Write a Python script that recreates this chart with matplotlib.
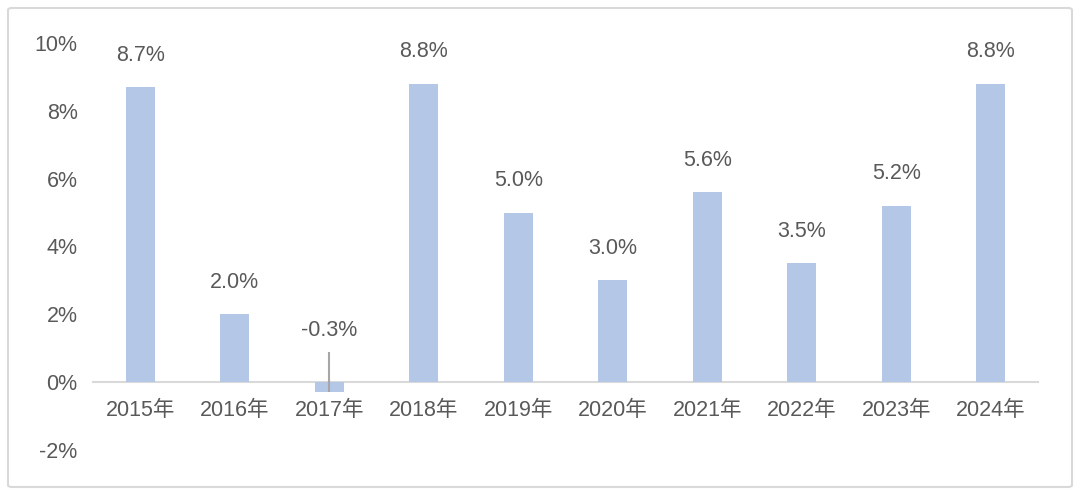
import numpy as np
import matplotlib.pyplot as plt
from matplotlib.patches import FancyBboxPatch

plt.rcParams['font.family'] = ['Liberation Sans', 'Noto Sans CJK SC', 'DejaVu Sans']

# Data
years = ['2015年', '2016年', '2017年', '2018年', '2019年',
         '2020年', '2021年', '2022年', '2023年', '2024年']
growth = [8.7, 2.0, -0.3, 8.8, 5.0, 3.0, 5.6, 3.5, 5.2, 8.8]
yticks = [-2, 0, 2, 4, 6, 8, 10]

bar_color = '#B4C7E7'
text_color = '#595959'
fs = 15.5

fig = plt.figure(figsize=(10.8, 4.95), dpi=100)
ax = fig.add_axes([93 / 1080, 1 - 450 / 495, 945 / 1080, 407 / 495])

x = np.arange(len(years))
ax.bar(x, growth, width=0.31, color=bar_color, zorder=2)

# data labels
for xi, v in zip(x, growth):
    if v >= 0:
        ax.annotate(f'{v:.1f}%', (xi, v), xytext=(0, 23), textcoords='offset points',
                    ha='center', va='center', fontsize=fs, color=text_color)
    else:
        ax.annotate(f'{v:.1f}%', (xi, 0), xytext=(0, 37), textcoords='offset points',
                    ha='center', va='center', fontsize=fs, color=text_color)
        # leader line from label down through the bar
        ax.vlines(xi, v, 0.9, color='#A6A6A6', linewidth=1.5, zorder=3)

ax.set_xlim(-0.5, len(years) - 0.5)
ax.set_ylim(-2, 10)
ax.set_yticks(yticks)
ax.set_yticklabels([f'{t}%' for t in yticks])
ax.set_xticks(x)
ax.set_xticklabels(years)

# zero line doubles as the category axis
for s in ['top', 'right', 'left']:
    ax.spines[s].set_visible(False)
ax.spines['bottom'].set_position(('data', 0))
ax.spines['bottom'].set_color('#D9D9D9')
ax.spines['bottom'].set_linewidth(1.5)
ax.spines['bottom'].set_zorder(1)

ax.tick_params(axis='x', length=0, labelsize=fs, colors=text_color, pad=13)
ax.tick_params(axis='y', length=0, labelsize=fs, colors=text_color, pad=11)

# outer border
border = FancyBboxPatch((8 / 1080, 8 / 495), 1064 / 1080, 479 / 495,
                        boxstyle='round,pad=0,rounding_size=0.004',
                        transform=fig.transFigure, fill=False,
                        edgecolor='#D9D9D9', linewidth=1.5)
fig.patches.append(border)

fig.savefig('out.png', dpi=100)
